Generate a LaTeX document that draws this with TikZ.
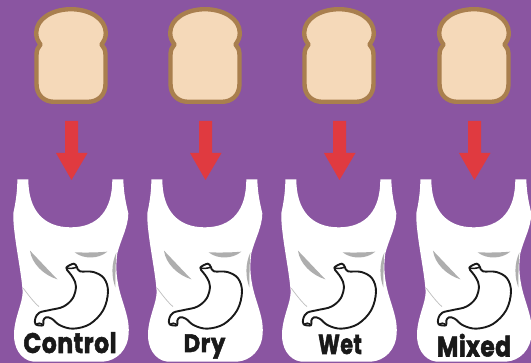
\documentclass[tikz,border=0pt]{standalone}
\usepackage{graphicx}
\usepackage{fontspec}
\setmainfont{Poppins}
\newfontfamily\labf[BoldFeatures={FakeBold=2},LetterSpace=2]{Poppins}
\definecolor{bgp}{HTML}{8A55A1}
\definecolor{crust}{HTML}{A97F4E}
\definecolor{crumb}{HTML}{F5D9B9}
\definecolor{arrowred}{HTML}{E03A40}
\definecolor{fold}{HTML}{AEAEAE}
\tikzset{
  bread/.style={draw=crust,fill=crumb,line width=4.4pt,line join=round},
  redarrow/.style={fill=arrowred},
  tank/.style={fill=white},
  foldmark/.style={fill=fold},
  stomach/.style={draw=black!90,line width=1.9pt,line join=round,fill=white},
  lab/.style={font=\labf\bfseries\fontsize{24}{24}\selectfont,text=black!90,inner sep=0pt,anchor=base}
}
\begin{document}
\begin{tikzpicture}[x=1pt,y=-1pt]
\useasboundingbox (0,0) rectangle (531,363);
\fill[bgp] (0,0) rectangle (531,363);
\begin{scope}
\clip (0,0) rectangle (531,363);
\foreach \ox/\txt/\ty/\tx/\sx/\sy in {0/Control/353/70/0.98/1.18,134/Dry/352/204.5/0.95/1.05,268/Wet/354/340/0.86/1.15,403/Mixed/356.5/474/0.97/1.18}{
  % bread and arrow
  \begin{scope}[shift={(\ox,0)}]
    \path[bread] (71,9.2)
      .. controls (90,9.2) and (105.8,19) .. (105.8,33)
      .. controls (105.8,38) and (104,41) .. (101.5,44.5)
      .. controls (104,47) and (105.5,50) .. (105.5,55)
      -- (105.5,84)
      .. controls (105.5,95) and (98,101.8) .. (88,101.8)
      -- (54,101.8)
      .. controls (44,101.8) and (36.5,95) .. (36.5,84)
      -- (36.5,55)
      .. controls (36.5,50) and (38,47) .. (40.5,44.5)
      .. controls (38,41) and (36.2,38) .. (36.2,33)
      .. controls (36.2,19) and (52,9.2) .. (71,9.2) -- cycle;
    \path[redarrow] (65,121) -- (78,121) -- (78,153) -- (87.5,153) -- (71.5,180) -- (56,153) -- (65,153) -- cycle;
  \end{scope}
  % tank, drawn in zoomed coordinates
  \begin{scope}[shift={(\ox,170)},x=0.3333pt,y=-0.3333pt]
    \path[tank] (52,28) -- (85,28)
      .. controls (85,120) and (130,172) .. (212,172)
      .. controls (295,172) and (337,120) .. (337,28)
      -- (370,28)
      .. controls (371,70) and (378,100) .. (385,130)
      .. controls (385,170) and (362,210) .. (352,250)
      .. controls (348,280) and (348,310) .. (354,340)
      .. controls (362,390) and (390,440) .. (386,490)
      .. controls (384,540) and (350,572) .. (310,575)
      -- (100,575)
      .. controls (60,570) and (40,530) .. (42,490)
      .. controls (44,440) and (68,400) .. (68,365)
      .. controls (64,300) and (38,190) .. (40,130)
      .. controls (46,100) and (52,70) .. (52,28) -- cycle;
    \path[foldmark] (90,242) .. controls (95,280) and (130,315) .. (172,328)
      .. controls (145,300) and (115,268) .. (90,242) -- cycle;
    \path[foldmark] (224,247) .. controls (250,268) and (295,268) .. (322,245)
      .. controls (290,248) and (250,248) .. (224,247) -- cycle;
    \path[foldmark] (349,248) .. controls (334,280) and (334,320) .. (346,352)
      .. controls (346,315) and (347,280) .. (349,248) -- cycle;
    \draw[fold!80,line width=0.7pt] (70,355) .. controls (85,375) and (100,395) .. (117,410);
    \path[stomach] plot[smooth cycle,tension=0.6] coordinates {
      (199,293) (222,281) (231,292) (240,304) (280,306) (312,325) (324,365) (310,420)
      (270,462) (220,476) (180,466) (155,446) (138,442) (130,452) (129,466) (107,463)
      (106,445) (118,428) (150,420) (190,410) (218,385) (228,350) (220,325) (208,308)};
    \draw[black!90,line width=1.5pt] (199,293) .. controls (207,298) and (222,294) .. (231,292);
    \draw[black!90,line width=1.5pt] (107,463) .. controls (113,458) and (123,458) .. (129,466);
  \end{scope}
  \node[lab] (label\txt) at (\tx,\ty) {\scalebox{\sx}[\sy]{\txt}};
}
\end{scope}
\end{tikzpicture}
\end{document}
